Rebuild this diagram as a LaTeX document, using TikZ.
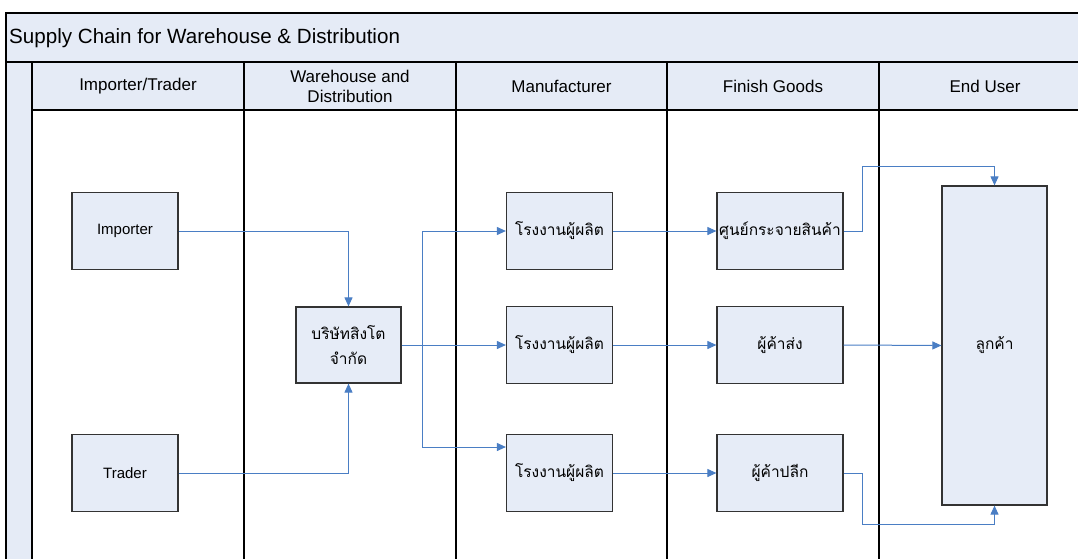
\documentclass[tikz,border=0pt]{standalone}
\usepackage{fontspec}
\setmainfont{Liberation Sans}
\newfontfamily\thaifont[Script=Thai]{Loma}
\usetikzlibrary{arrows.meta}
\definecolor{bandfill}{RGB}{229,235,246}
\definecolor{boxfill}{RGB}{230,236,247}
\definecolor{flowblue}{RGB}{74,126,196}
\tikzset{
  lane/.style={draw=black, line width=1.3pt},
  lanehead/.style={font=\fontsize{17}{20}\selectfont, align=center},
  actor/.style={draw=black!80, fill=boxfill, line width=1.2pt, minimum width=106pt, minimum height=77pt, inner sep=1pt, font=\fontsize{15}{18}\selectfont},
  thaiactor/.style={actor, font=\thaifont\fontsize{15.5}{25}\selectfont, align=center},
  wideactor/.style={thaiactor, minimum width=126pt},
  arrow/.style={-{Triangle[length=9pt,width=8pt]}, line width=1pt, flowblue}
}
\begin{document}
\begin{tikzpicture}[x=1pt, y=-1pt]
  \useasboundingbox (0,0) rectangle (1078,559);
  % pool and lanes
  \fill[bandfill] (6,13) rectangle (1078,62);
  \fill[bandfill] (6,62) rectangle (32,559);
  \fill[bandfill] (32,62) rectangle (1078,110);
  \draw[lane] (1078,13) -- (6,13) -- (6,559);
  \draw[lane] (6,62) -- (1078,62);
  \draw[lane] (32,110) -- (1078,110);
  \foreach \lx in {32,244,456,667,879}
    \draw[lane] (\lx,62) -- (\lx,559);
  \node[anchor=west, font=\fontsize{20.6}{24}\selectfont, inner sep=0pt] (title) at (9,38) {Supply Chain for Warehouse \& Distribution};
  \node[lanehead] (hdimp) at (138,86) {Importer/Trader};
  \node[lanehead] (hdware) at (350,86) {Warehouse and\\Distribution};
  \node[lanehead] (hdmanu) at (561.5,86) {Manufacturer};
  \node[lanehead] (hdfin) at (773,86) {Finish Goods};
  \node[lanehead] (hdend) at (985,86) {End User};

  % actors
  \node[actor] (importer) at (125,231) {Importer};
  \node[actor] (trader) at (125,473) {Trader};
  \node[thaiactor, minimum width=105pt, minimum height=76pt] (company) at (348.5,345) {บริษัทสิงโต\\จำกัด};
  \node[thaiactor] (manu1) at (559.5,231) {โรงงานผู้ผลิต};
  \node[thaiactor] (manu2) at (559.5,345) {โรงงานผู้ผลิต};
  \node[thaiactor] (manu3) at (559.5,473) {โรงงานผู้ผลิต};
  \node[wideactor] (fin1) at (780,231) {ศูนย์กระจายสินค้า};
  \node[wideactor] (fin2) at (780,345) {ผู้ค้าส่ง};
  \node[wideactor] (fin3) at (780,473) {ผู้ค้าปลีก};
  \node[thaiactor, minimum width=105pt, minimum height=319pt] (enduser) at (994.5,345.5) {ลูกค้า};

  % flows
  \coordinate (split) at (422,345);
  \draw[arrow] (importer.east) -| (company.north);
  \draw[arrow] (trader.east) -| (company.south);
  \draw[arrow] (company.east) -- (manu2.west);
  \draw[arrow] (split) |- (manu1.west);
  \draw[arrow] (split) |- ([yshift=26pt]manu3.west);
  \draw[arrow] (manu1.east) -- (fin1.west);
  \draw[arrow] (manu2.east) -- (fin2.west);
  \draw[arrow] (manu3.east) -- (fin3.west);
  \draw[arrow] (fin1.east) -- ++(19,0) |- ([yshift=19pt]enduser.north) -- (enduser.north);
  \draw[arrow] (fin2.east) -- (enduser.west);
  \draw[arrow] (fin3.east) -- ++(19,0) |- ([yshift=-19pt]enduser.south) -- (enduser.south);
\end{tikzpicture}
\end{document}
